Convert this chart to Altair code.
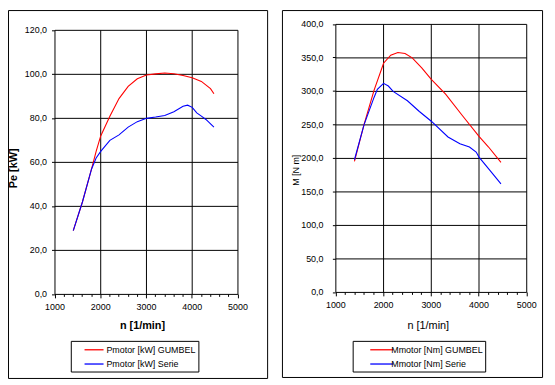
import altair as alt
import pandas as pd

FONT = "Liberation Sans"

# ---- data ----
# Left panel: power Pe [kW] vs n [1/min]
p_names = ["Pmotor [kW] GUMBEL", "Pmotor [kW] Serie"]
n_p_gumbel = [1400, 1600, 1800, 1900, 2000, 2200, 2400, 2600, 2800, 3000, 3200, 3400,
              3600, 3800, 4000, 4200, 4400, 4475]
p_gumbel = [29, 42, 57, 65, 72, 81, 89, 94.5, 98, 99.7, 100.2, 100.6,
            100.3, 99.5, 98.5, 96.8, 93.5, 91.2]
n_p_serie = [1400, 1600, 1800, 1900, 2000, 2200, 2400, 2600, 2800, 3000, 3200, 3400,
             3600, 3800, 3900, 4000, 4100, 4200, 4300, 4475]
p_serie = [29, 42, 57, 62, 65, 70, 72.5, 76, 78.5, 80, 80.6, 81.3,
           83, 85.5, 86, 85, 82.5, 81, 79.5, 76]

# Right panel: torque M [N m] vs n [1/min]
m_names = ["Mmotor [Nm] GUMBEL", "Mmotor [Nm] Serie"]
n_m_gumbel = [1390, 1590, 1800, 2000, 2150, 2300, 2450, 2600, 2800, 3000, 3300, 3650,
              4000, 4200, 4460]
m_gumbel = [195.5, 250.5, 301.5, 342, 354, 358, 356.5, 350, 335, 318, 296, 264,
            233, 217, 194]
n_m_serie = [1390, 1590, 1800, 1870, 2000, 2100, 2200, 2500, 2750, 3000, 3350, 3600,
             3800, 3940, 4000, 4220, 4460]
m_serie = [198, 250, 291, 303, 312, 308, 300, 286, 270, 255.5, 232, 222,
           217, 209.5, 202, 183, 162]

x_major = [1000, 2000, 3000, 4000, 5000]
x_minor = list(range(1000, 5001, 200))
p_ticks = [0, 20, 40, 60, 80, 100, 120]
m_ticks = [0, 50, 100, 150, 200, 250, 300, 350, 400]

df_p = pd.DataFrame({
    "n": n_p_gumbel + n_p_serie,
    "v": p_gumbel + p_serie,
    "s": [p_names[0]] * len(n_p_gumbel) + [p_names[1]] * len(n_p_serie),
    "o": list(range(len(n_p_gumbel))) + list(range(len(n_p_serie))),
})
df_m = pd.DataFrame({
    "n": n_m_gumbel + n_m_serie,
    "v": m_gumbel + m_serie,
    "s": [m_names[0]] * len(n_m_gumbel) + [m_names[1]] * len(n_m_serie),
    "o": list(range(len(n_m_gumbel))) + list(range(len(n_m_serie))),
})

W, H = 545, 374
comma = "replace(format(datum.value, '.1f'), '.', ',')"
major_test = "datum.value % 1000 === 0"


def panel(df, names, yticks, xr, yr, ytitle, ytstyle, xtstyle, ylabpad, xlabpad,
          legend_xy, sym_path, sym_off, lab_off, lab_pad):
    xs = alt.Scale(domain=[1000, 5000], range=xr, nice=False, zero=False)
    ys = alt.Scale(domain=[yticks[0], yticks[-1]], range=yr, nice=False)
    vdf = pd.DataFrame({"gx": x_major, "gy0": [yticks[0]] * len(x_major),
                        "gy1": [yticks[-1]] * len(x_major)})
    hdf = pd.DataFrame({"gy": yticks, "gx0": [1000] * len(yticks),
                        "gx1": [5000] * len(yticks)})
    vgrid = alt.Chart(vdf).mark_rule(color="black", strokeWidth=1).encode(
        x=alt.X("gx:Q", scale=xs, axis=None),
        y=alt.Y("gy0:Q", scale=ys, axis=None), y2="gy1:Q")
    hgrid = alt.Chart(hdf).mark_rule(color="black", strokeWidth=1).encode(
        y=alt.Y("gy:Q", scale=ys, axis=None),
        x=alt.X("gx0:Q", scale=xs, axis=None), x2="gx1:Q")
    lines = alt.Chart(df).mark_line(strokeWidth=1.1).encode(
        x=alt.X("n:Q", scale=xs, axis=alt.Axis(
            orient="bottom", offset=yr[0] - H, translate=0,
            values=x_minor, format="d", labelExpr=major_test + " ? datum.label : ''",
            grid=False, domain=False, tickColor="black", tickWidth=1,
            tickSize={"condition": {"test": major_test, "value": 4}, "value": 2.5},
            labelFont=FONT, labelFontSize=9, labelColor="black", labelPadding=xlabpad,
            labelFlush=False, labelOverlap=False,
            title="n [1/min]", titleFont=FONT, titleFontSize=11,
            titleFontWeight=xtstyle[0], titleColor="black",
            titleX=xtstyle[1], titleY=xtstyle[2], titleBaseline="middle",
            titleAlign="center")),
        y=alt.Y("v:Q", scale=ys, axis=alt.Axis(
            orient="left", offset=-xr[0], translate=0,
            values=yticks, labelExpr=comma, grid=False, domain=False,
            tickColor="black", tickSize=3, tickWidth=1,
            labelFont=FONT, labelFontSize=9, labelColor="black", labelPadding=ylabpad,
            labelOverlap=False,
            title=ytitle, titleFont=FONT, titleFontSize=ytstyle[0],
            titleFontWeight=ytstyle[1], titleColor="black", titleAngle=270,
            titleX=ytstyle[2], titleY=ytstyle[3], titleBaseline="middle",
            titleAlign="center")),
        color=alt.Color("s:N", scale=alt.Scale(domain=names, range=["#ff0000", "#0000ff"]),
                        legend=alt.Legend(
                            orient="none", legendX=legend_xy[0], legendY=legend_xy[1],
                            title=None, direction="vertical", strokeColor="black",
                            fillColor="white", padding=2, cornerRadius=0,
                            symbolType=sym_path, symbolSize=144, symbolStrokeWidth=1.3,
                            symbolOffset=sym_off, labelOffset=lab_off,
                            labelFont=FONT, labelFontSize=9, labelColor="black",
                            rowPadding=2.4, labelExpr="datum.label + '" + lab_pad + "'")),
        order="o:Q",
    )
    return [vgrid, hgrid, lines]


def frame(x1, x2, y1, y2):
    return alt.Chart(alt.Data(values=[{"a": 1}])).mark_rect(
        fill="transparent", stroke="black", strokeWidth=1).encode(
        x=alt.value(x1), x2=alt.value(x2), y=alt.value(y1), y2=alt.value(y2))


left = panel(df_p, p_names, p_ticks, [47.5, 232.5], [287.5, 20.5],
             "Pe [kW]", (11, "bold", -41.5, 160), ("bold", 136, 32.4),
             5, 5, (63.5, 334.5), "M-1.6,0H1.6", 14.5, 5.5, "   ")
right = panel(df_m, m_names, m_ticks, [331.5, 524.5], [285.5, 14.5],
              "M [N m]", (9, "normal", -40, 162), ("normal", 425, 33.7),
              9.5, 4.5, (348.5, 334.5), "M-1.95,0H1.95", 20.5, 2.5, "           ")

chart = alt.layer(
    *left, *right, frame(0.5, 262.5, 0.5, 372.5), frame(277.5, 540.5, 0.5, 371.5)
).resolve_scale(
    x="independent", y="independent", color="independent"
).resolve_axis(
    x="independent", y="independent"
).properties(
    width=W, height=H, autosize=alt.AutoSizeParams(type="none"), padding=0,
    background="white"
).configure_view(stroke="transparent")

chart.save("out.html", embed_options={"renderer": "svg", "actions": False})
